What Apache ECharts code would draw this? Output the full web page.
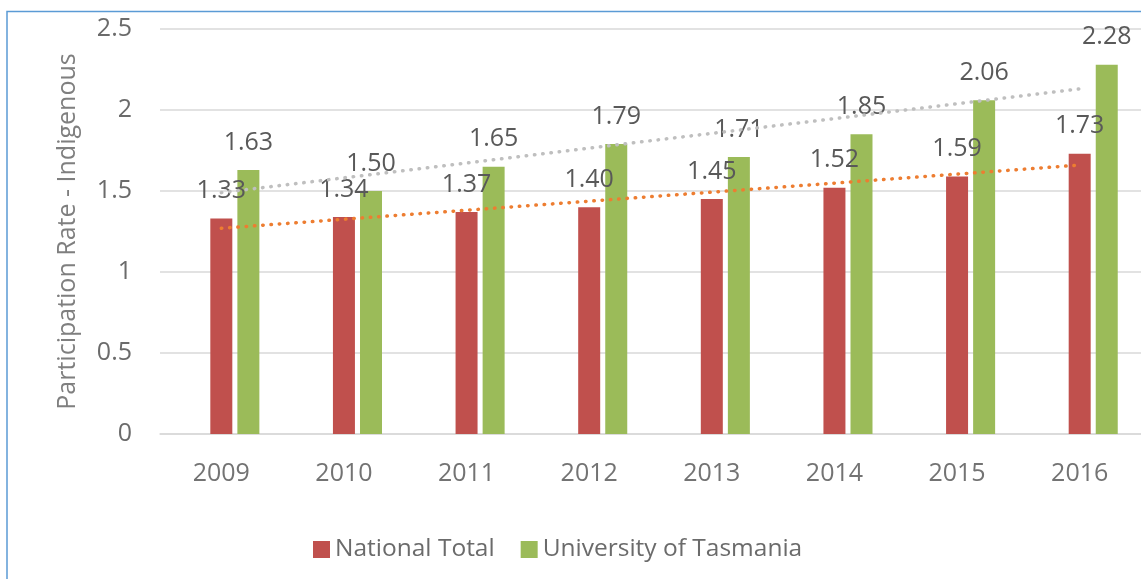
<!DOCTYPE html>
<html>
<head>
<meta charset="utf-8">
<script src="https://cdn.jsdelivr.net/npm/echarts@6/dist/echarts.min.js"></script>
<style>
html,body{margin:0;padding:0;background:#fff;}
#chart{width:1141px;height:579px;}
</style>
</head>
<body>
<div id="chart"></div>
<script>
const categories = ['2009', '2010', '2011', '2012', '2013', '2014', '2015', '2016'];
const nationalTotal = [1.33, 1.34, 1.37, 1.40, 1.45, 1.52, 1.59, 1.73];
const uniTasmania = [1.63, 1.50, 1.65, 1.79, 1.71, 1.85, 2.06, 2.28];
// trendline end values (first and last category)
const nationalTrend = [1.27, 1.66];
const tasmaniaTrend = [1.49, 2.13];
const seriesNames = ['National Total', 'University of Tasmania'];
const yAxisTitle = 'Participation Rate - Indigenous';

const FONT = 'Open Sans';
const n = categories.length;
function trendData(ends) {
  return categories.map((c, i) => i === 0 ? ends[0] : (i === n - 1 ? ends[1] : '-'));
}

const chart = echarts.init(document.getElementById('chart'), null, {renderer: 'canvas'});
const labelStyle = {
  show: true, position: 'top', distance: 15,
  fontFamily: FONT, fontSize: 25, color: '#595959',
  formatter: p => Number(p.value).toFixed(2)
};
chart.setOption({
  animation: false,
  backgroundColor: '#fff',
  graphic: [{
    type: 'rect', silent: true, z: 100,
    shape: {x: 7, y: 11.5, width: 1400, height: 800},
    style: {fill: 'none', stroke: '#5B9BD5', lineWidth: 1.5}
  }],
  legend: {
    data: seriesNames,
    left: 313, top: 537, padding: 0,
    itemWidth: 17, itemHeight: 17, itemGap: 26,
    icon: 'rect',
    textStyle: {fontFamily: FONT, fontSize: 24.5, color: '#6b6b6b'}
  },
  grid: {left: 160, right: -2, top: 29, bottom: 145},
  xAxis: {
    type: 'category', data: categories,
    axisLine: {show: true, lineStyle: {color: '#D9D9D9', width: 1.5}},
    axisTick: {show: false},
    axisLabel: {fontFamily: FONT, fontSize: 25, color: '#737373', margin: 27}
  },
  yAxis: {
    type: 'value', min: 0, max: 2.5, interval: 0.5,
    name: yAxisTitle, nameLocation: 'middle', nameGap: 80,
    nameTextStyle: {fontFamily: FONT, fontSize: 25, color: '#7f7f7f'},
    axisLine: {show: false}, axisTick: {show: false},
    axisLabel: {fontFamily: FONT, fontSize: 25, color: '#6b6b6b', margin: 28},
    splitLine: {lineStyle: {color: '#D9D9D9', width: 1.5}}
  },
  series: [
    {
      name: '_spacer', type: 'bar', barWidth: 22, barGap: '23%',
      data: categories.map(() => '-'), silent: true, itemStyle: {color: 'rgba(0,0,0,0)'}
    },
    {
      name: seriesNames[0], type: 'bar', barWidth: 22, barGap: '23%',
      data: nationalTotal, itemStyle: {color: '#C0504D'}, label: labelStyle, z: 2
    },
    {
      name: seriesNames[1], type: 'bar', barWidth: 22, barGap: '23%',
      data: uniTasmania, itemStyle: {color: '#9BBB59'}, label: labelStyle, z: 2
    },
    {
      name: 'trendNational', type: 'line', data: trendData(nationalTrend), connectNulls: true,
      symbol: 'none', silent: true, z: 3,
      lineStyle: {color: '#ED7D31', width: 3.5, type: [0.5, 7.8], cap: 'round'}
    },
    {
      name: 'trendTas', type: 'line', data: trendData(tasmaniaTrend), connectNulls: true,
      symbol: 'none', silent: true, z: 3,
      lineStyle: {color: '#BFBFBF', width: 3.5, type: [0.5, 7.8], cap: 'round'}
    }
  ]
});
</script>
</body>
</html>
